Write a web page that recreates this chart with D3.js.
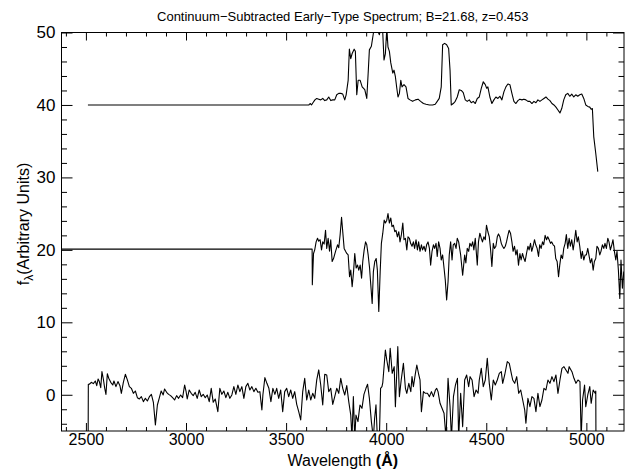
<!DOCTYPE html>
<html>
<head>
<meta charset="utf-8">
<script src="https://cdn.jsdelivr.net/npm/d3@7"></script>
<style>
  body { margin: 0; background: #fff; }
  svg { display: block; }
  text { font-family: "Liberation Sans", "DejaVu Sans", sans-serif; fill: #000; }
</style>
</head>
<body>
<div id="container"></div>
<script>
let w = 626;
let h = 469;
let plotLeft = 61.5, plotRight = 624, plotTop = 32.5, plotBottom = 431;

// axis ticks
let xMajor = [2500, 3000, 3500, 4000, 4500, 5000];
let xMinor = [2400, 2600, 2700, 2800, 2900, 3100, 3200, 3300, 3400, 3600, 3700, 3800, 3900,
              4100, 4200, 4300, 4400, 4600, 4700, 4800, 4900, 5100];
let yMajor = [0, 10, 20, 30, 40, 50];
let yMinor = [-4, -2, 2, 4, 6, 8, 12, 14, 16, 18, 22, 24, 26, 28, 32, 34, 36, 38, 42, 44, 46, 48];

// top spectrum (offset 40)
let topWave = [2510, 3614, 3620, 3627, 3634, 3644, 3653, 3663, 3673, 3683, 3693, 3703, 3713, 3723, 3733, 3743,
  3753, 3763, 3773, 3783, 3793, 3800, 3810, 3816, 3823, 3830, 3840, 3846, 3853, 3860, 3870, 3880, 3893, 3903,
  3910, 3916, 3926, 3936, 3943, 3953, 3966, 3976, 3983, 3989, 3996, 4003, 4009, 4016, 4023, 4033, 4039, 4046,
  4053, 4059, 4066, 4073, 4079, 4089, 4099, 4109, 4119, 4132, 4146, 4159, 4172, 4186, 4199, 4216, 4232, 4245,
  4255, 4265, 4275, 4282, 4292, 4302, 4312, 4319, 4325, 4335, 4345, 4355, 4365, 4375, 4385, 4395, 4405, 4415,
  4425, 4435, 4445, 4455, 4465, 4475, 4485, 4495, 4502, 4508, 4518, 4528, 4538, 4548, 4558, 4568, 4578, 4588,
  4598, 4608, 4618, 4628, 4638, 4648, 4658, 4668, 4678, 4688, 4698, 4708, 4718, 4728, 4738, 4748, 4758, 4768,
  4778, 4788, 4798, 4808, 4818, 4828, 4838, 4848, 4858, 4868, 4877, 4887, 4897, 4907, 4917, 4927, 4937, 4947,
  4957, 4967, 4977, 4987, 4997, 5007, 5017, 5024, 5030, 5037, 5047, 5057];
let topFlux = [40.0, 40.0, 40.2, 40.0, 40.3, 40.7, 40.9, 40.8, 40.7, 40.9, 40.6, 40.7, 41.1, 40.6, 40.7, 40.7,
  41.4, 41.6, 41.6, 41.5, 40.7, 41.4, 43.4, 47.7, 46.4, 47.1, 47.7, 47.4, 41.4, 43.4, 43.4, 42.5, 42.1, 40.9,
  44.4, 47.6, 48.1, 49.9, 51.0, 50.5, 49.7, 51.0, 49.9, 46.2, 47.1, 50.5, 48.0, 47.4, 45.8, 44.4, 44.8, 43.9,
  42.3, 41.1, 41.6, 43.4, 42.5, 42.8, 42.5, 40.9, 40.7, 40.5, 40.7, 40.8, 40.5, 40.2, 40.1, 40.0, 40.0, 40.1,
  40.5, 40.9, 42.5, 48.3, 48.5, 48.3, 47.8, 44.8, 40.0, 40.2, 40.5, 41.1, 42.1, 42.0, 41.7, 40.7, 40.5, 40.7,
  40.3, 40.5, 40.2, 40.9, 41.1, 42.3, 43.2, 42.8, 42.3, 42.5, 41.1, 40.2, 40.7, 41.1, 40.9, 41.2, 40.7, 41.8,
  42.5, 42.9, 42.8, 41.6, 40.5, 40.2, 40.6, 40.8, 40.7, 40.8, 40.7, 40.5, 40.5, 40.2, 40.5, 40.3, 40.7, 40.5,
  40.7, 40.9, 41.1, 40.8, 40.6, 40.2, 40.0, 39.7, 39.3, 38.9, 39.5, 40.7, 41.4, 41.6, 41.2, 41.5, 41.1, 41.4,
  41.2, 41.4, 41.5, 40.9, 40.0, 39.8, 39.7, 39.4, 39.5, 35.6, 33.3, 30.8];

// middle spectrum (offset 20)
let midWave = [2370, 3630, 3631, 3637, 3643, 3650, 3657, 3663, 3670, 3677, 3683, 3690, 3697, 3703, 3710, 3717,
  3723, 3730, 3737, 3747, 3757, 3763, 3770, 3777, 3783, 3790, 3797, 3803, 3810, 3817, 3823, 3830, 3837, 3843,
  3850, 3857, 3863, 3870, 3877, 3883, 3890, 3897, 3903, 3910, 3917, 3923, 3930, 3936, 3943, 3950, 3956, 3963,
  3970, 3976, 3983, 3990, 3996, 4003, 4009, 4016, 4023, 4029, 4036, 4043, 4049, 4056, 4063, 4069, 4076, 4083,
  4089, 4096, 4103, 4109, 4116, 4122, 4129, 4136, 4142, 4149, 4156, 4162, 4169, 4176, 4182, 4189, 4196, 4202,
  4209, 4216, 4222, 4229, 4236, 4242, 4249, 4255, 4262, 4269, 4275, 4282, 4289, 4295, 4302, 4309, 4315, 4322,
  4329, 4335, 4342, 4349, 4355, 4362, 4372, 4382, 4392, 4398, 4405, 4412, 4418, 4425, 4432, 4438, 4445, 4455,
  4461, 4468, 4475, 4481, 4488, 4495, 4501, 4508, 4515, 4521, 4528, 4535, 4541, 4548, 4555, 4561, 4568, 4575,
  4581, 4588, 4595, 4601, 4608, 4614, 4621, 4628, 4634, 4641, 4648, 4654, 4661, 4668, 4674, 4681, 4688, 4694,
  4701, 4708, 4714, 4721, 4727, 4734, 4741, 4747, 4754, 4761, 4767, 4774, 4781, 4787, 4794, 4801, 4807, 4814,
  4821, 4827, 4834, 4841, 4847, 4854, 4861, 4867, 4874, 4881, 4887, 4894, 4900, 4907, 4914, 4920, 4927, 4934,
  4940, 4947, 4954, 4960, 4967, 4974, 4980, 4987, 4994, 5000, 5007, 5014, 5020, 5027, 5034, 5040, 5047, 5053,
  5060, 5067, 5073, 5080, 5087, 5093, 5100, 5107, 5113, 5120, 5127, 5133, 5140, 5147, 5153, 5160, 5167, 5173,
  5180, 5187];
let midFlux = [20.1, 20.1, 15.2, 19.5, 20.0, 21.1, 21.6, 21.2, 21.4, 20.0, 21.1, 20.8, 22.7, 20.2, 21.6, 19.8,
  21.4, 18.4, 18.8, 19.8, 20.7, 20.3, 22.1, 24.5, 22.5, 20.2, 19.8, 19.5, 19.3, 16.3, 17.2, 14.9, 17.0, 19.5,
  17.5, 17.9, 17.2, 17.9, 16.1, 18.4, 20.0, 21.1, 20.7, 19.3, 17.5, 15.2, 12.6, 17.0, 18.4, 18.8, 17.2, 11.5,
  17.0, 20.9, 22.3, 24.1, 23.7, 24.1, 25.0, 23.7, 24.4, 23.2, 23.4, 22.5, 22.7, 21.8, 22.5, 21.1, 22.1, 23.7,
  21.4, 21.6, 20.0, 21.8, 21.6, 20.9, 20.5, 21.1, 20.2, 21.4, 20.0, 21.1, 19.8, 20.7, 20.0, 20.5, 19.8, 20.7,
  21.1, 20.2, 17.9, 19.8, 20.7, 20.2, 20.9, 19.1, 21.1, 20.2, 18.6, 19.3, 17.5, 15.9, 13.1, 15.6, 19.3, 21.1,
  18.6, 20.7, 20.9, 20.2, 21.6, 21.1, 19.3, 16.5, 19.3, 18.2, 20.2, 19.8, 20.9, 20.5, 21.1, 20.0, 21.6, 17.9,
  21.1, 22.3, 21.6, 21.1, 21.8, 21.4, 23.4, 22.5, 21.8, 20.2, 17.7, 20.9, 20.2, 20.5, 21.8, 22.2, 21.8, 20.9,
  20.5, 20.2, 20.5, 21.1, 22.0, 22.7, 22.3, 21.1, 19.8, 20.5, 19.3, 20.0, 17.9, 19.5, 18.6, 19.5, 18.8, 18.4,
  19.5, 20.5, 20.0, 20.9, 19.8, 20.5, 21.4, 20.7, 20.2, 19.1, 20.7, 20.2, 21.1, 20.7, 22.0, 21.4, 21.8, 21.4,
  20.9, 21.1, 20.7, 20.5, 18.8, 18.4, 16.3, 17.9, 19.3, 18.8, 20.2, 20.9, 22.1, 20.2, 21.6, 20.5, 21.4, 20.0,
  21.1, 22.7, 21.1, 21.8, 20.5, 18.8, 19.8, 18.6, 19.3, 19.3, 20.2, 19.1, 18.2, 18.8, 17.2, 18.4, 18.8, 20.5,
  20.2, 19.3, 19.8, 20.7, 20.2, 20.9, 20.2, 21.6, 21.1, 20.0, 20.7, 21.4, 19.8, 18.6, 19.8, 17.2, 13.3, 18.6,
  14.7, 17.0];

// bottom spectrum (offset 0)
let botWave = [2511, 2512, 2517, 2527, 2537, 2547, 2554, 2561, 2567, 2574, 2580, 2587, 2594, 2600, 2607, 2614,
  2624, 2634, 2640, 2650, 2660, 2670, 2677, 2687, 2697, 2707, 2717, 2727, 2737, 2747, 2757, 2767, 2777, 2787,
  2797, 2807, 2817, 2827, 2837, 2847, 2857, 2867, 2876, 2886, 2893, 2903, 2913, 2923, 2933, 2943, 2953, 2963,
  2973, 2983, 2993, 3000, 3006, 3016, 3026, 3036, 3046, 3056, 3066, 3076, 3086, 3096, 3106, 3116, 3126, 3136,
  3146, 3159, 3169, 3179, 3189, 3199, 3209, 3219, 3229, 3239, 3249, 3259, 3269, 3279, 3289, 3299, 3309, 3319,
  3329, 3339, 3349, 3359, 3369, 3379, 3384, 3394, 3404, 3414, 3424, 3434, 3444, 3453, 3463, 3473, 3483, 3493,
  3503, 3513, 3523, 3533, 3543, 3553, 3563, 3573, 3583, 3593, 3603, 3613, 3623, 3633, 3643, 3653, 3663, 3673,
  3683, 3693, 3703, 3713, 3723, 3733, 3743, 3753, 3763, 3773, 3783, 3793, 3803, 3813, 3823, 3829, 3836, 3843,
  3849, 3859, 3869, 3879, 3889, 3899, 3907, 3916, 3926, 3936, 3942, 3949, 3956, 3966, 3972, 3979, 3983, 3996,
  4003, 4013, 4020, 4030, 4040, 4046, 4058, 4066, 4075, 4086, 4096, 4103, 4113, 4123, 4129, 4136, 4146, 4153,
  4163, 4169, 4176, 4186, 4196, 4206, 4216, 4226, 4236, 4246, 4252, 4259, 4269, 4279, 4289, 4299, 4309, 4319,
  4326, 4336, 4346, 4356, 4362, 4372, 4382, 4392, 4402, 4412, 4419, 4429, 4439, 4449, 4459, 4465, 4475, 4485,
  4495, 4505, 4515, 4525, 4535, 4545, 4555, 4565, 4575, 4582, 4592, 4605, 4615, 4625, 4632, 4642, 4652, 4662,
  4672, 4682, 4692, 4698, 4708, 4718, 4728, 4738, 4748, 4758, 4768, 4778, 4788, 4798, 4808, 4818, 4828, 4838,
  4848, 4858, 4868, 4878, 4888, 4898, 4908, 4914, 4928, 4938, 4948, 4958, 4968, 4974, 4981, 4991, 4997, 5007,
  5017, 5024, 5034, 5044, 5047, 5048];
let botFlux = [-7, 1.45, 1.45, 1.72, 1.54, 1.9, 1.26, 2.18, 1.82, 0.99, 3.2, 2.18, 0.89, 0.06, 2.9, 2.28,
  1.72, 1.35, 1.9, 1.12, 1.82, 1.26, 0.2, 1.72, 2.83, 2.05, 1.12, 0.89, 0.2, 0.52, -0.4, -0.58, -0.26, -0.95,
  -0.49, -0.86, -0.26, 0.06, -1.04, -4.17, -1.41, -0.4, 0.52, -0.03, 0.8, 0.34, 0.06, -0.12, -0.4, -0.72, -0.12, -0.49,
  -0.03, -0.4, 1.35, 0.52, -0.58, 0.66, 0.2, -0.12, 0.34, -0.49, 0.66, -0.26, 0.06, -0.4, -0.03, -0.95, 0.89, -1.04,
  -0.58, -2.33, 0.89, 0.06, 0.52, -0.4, 0.34, -0.49, -0.03, 1.12, 0.06, 1.35, 0.43, 1.12, -0.49, 1.12, 1.58, 0.66,
  1.12, 0.43, 0.89, 0.34, 0.43, -2.1, -0.03, 2.37, 1.58, 0.89, -0.95, 0.89, 0.06, 0.89, -0.49, 0.66, -2.33, 0.43,
  0.89, -0.26, 0.66, -0.49, 0.43, -1.32, -2.33, -3.48, 0.43, 2.27, -0.72, 0.66, -0.72, 0.2, -0.49, 2.05, 3.43, 1.35,
  -1.41, 2.83, 2.73, 0.43, 0.89, -1.32, -0.26, 0.89, 0.2, 2.27, 0.89, -0.03, 1.26, -0.95, -2.8, -6, -0.26, -6,
  -2.8, -3.7, -1.41, -1.87, 0.06, 0.89, 1.45, -0.49, -3.7, -6, -3.3, -1.4, -6, -6, 0.89, 1.12, 1.67, 6.18,
  4.8, 3.19, 6.41, 2.96, 3.88, -1.64, 6.64, -0.26, 2.04, 4.33, 0.89, 0.2, 1.58, 0.43, 2.5, 1.12, 2.96, 4.11,
  2.73, 2.04, -2.33, 0.43, 0.2, 0.2, -0.26, 0.43, -0.26, 0.66, 0.89, 0.43, -1.18, -1.87, -2.56, -6, 2.27, -1.64,
  -6, -0.26, 1.35, 2.27, -6, 0.2, -4.4, 2.04, 2.73, 1.12, 2.5, 2.04, -0.26, 0.66, 0.2, 2.04, 3.65, 1.12,
  2.04, 5.03, 1.58, -0.72, 2.04, 1.35, 2.04, 2.96, 3.19, 1.58, 2.73, 4.57, 4.33, 2.96, 2.04, 1.58, 2.5, 0.2,
  0.66, -0.72, -2.1, -3.94, -0.49, -1.64, -0.26, -0.49, -2.33, 0.2, -1.64, -0.72, 0.89, 0.66, 2.04, 1.58, 2.5, 1.81,
  2.73, 0.2, 2.04, 3.65, 3.88, 3.42, 2.96, 3.88, 3.19, 2.27, 1.58, 2.04, 1.81, -6, -0.72, 1.35, -1.64, -0.03,
  1.12, -1.18, 0.66, 0.2, 0.5, -7];

let svg = d3.select("#container")
  .append("svg")
    .attr("width", w)
    .attr("height", h)
    .style("background-color", "white");

let xScale = d3.scaleLinear().domain([2378, 5188]).range([plotLeft, plotRight]);
let yScale = d3.scaleLinear().domain([-5, 50]).range([plotBottom, plotTop]);

svg.append("clipPath").attr("id", "plotclip")
  .append("rect")
    .attr("x", plotLeft).attr("y", plotTop)
    .attr("width", plotRight - plotLeft).attr("height", plotBottom - plotTop);

let line = d3.line()
  .x(d => xScale(d[0]))
  .y(d => yScale(d[1]));

let spectra = [
  d3.zip(topWave, topFlux),
  d3.zip(midWave, midFlux),
  d3.zip(botWave, botFlux)
];

svg.append("g").attr("clip-path", "url(#plotclip)")
  .selectAll("path").data(spectra).enter()
  .append("path")
    .attr("d", line)
    .attr("fill", "none")
    .attr("stroke", "#000")
    .attr("stroke-width", 1.1)
    .attr("stroke-linejoin", "round");

// IDL-style inward ticks on all four sides
function styleAxis(g) {
  g.select(".domain").remove();
  g.selectAll(".tick line").attr("stroke", "#000").attr("stroke-width", 1);
  g.selectAll("text").style("font-size", "16px").attr("fill", "#000");
}
let xMajLen = 8, xMinLen = 4, yMajLen = 11, yMinLen = 5.5;

svg.append("g").attr("transform", "translate(0," + plotBottom + ")")
  .call(d3.axisBottom(xScale).tickValues(xMajor).tickSize(-xMajLen).tickPadding(3).tickFormat(d3.format("d")))
  .call(styleAxis);
svg.append("g").attr("transform", "translate(0," + plotBottom + ")")
  .call(d3.axisBottom(xScale).tickValues(xMinor).tickSize(-xMinLen).tickFormat(""))
  .call(styleAxis);
svg.append("g").attr("transform", "translate(0," + plotTop + ")")
  .call(d3.axisTop(xScale).tickValues(xMajor).tickSize(-xMajLen).tickFormat(""))
  .call(styleAxis);
svg.append("g").attr("transform", "translate(0," + plotTop + ")")
  .call(d3.axisTop(xScale).tickValues(xMinor).tickSize(-xMinLen).tickFormat(""))
  .call(styleAxis);

svg.append("g").attr("transform", "translate(" + plotLeft + ",0)")
  .call(d3.axisLeft(yScale).tickValues(yMajor).tickSize(-yMajLen).tickPadding(6).tickFormat(d3.format("d")))
  .call(styleAxis)
  .selectAll("text").style("font-size", "17px");
svg.append("g").attr("transform", "translate(" + plotLeft + ",0)")
  .call(d3.axisLeft(yScale).tickValues(yMinor).tickSize(-yMinLen).tickFormat(""))
  .call(styleAxis);
svg.append("g").attr("transform", "translate(" + plotRight + ",0)")
  .call(d3.axisRight(yScale).tickValues(yMajor).tickSize(-yMajLen).tickFormat(""))
  .call(styleAxis);
svg.append("g").attr("transform", "translate(" + plotRight + ",0)")
  .call(d3.axisRight(yScale).tickValues(yMinor).tickSize(-yMinLen).tickFormat(""))
  .call(styleAxis);

// frame
svg.append("rect")
  .attr("x", plotLeft).attr("y", plotTop)
  .attr("width", plotRight - plotLeft).attr("height", plotBottom - plotTop)
  .attr("fill", "none").attr("stroke", "#000").attr("stroke-width", 1);

// titles
let midX = (plotLeft + plotRight) / 2;
svg.append("text")
  .attr("x", midX).attr("y", 21)
  .attr("text-anchor", "middle")
  .style("font-size", "13px")
  .text("Continuum\u2212Subtracted Early\u2212Type Spectrum; B=21.68, z=0.453");

let xt = svg.append("text")
  .attr("x", midX).attr("y", 466)
  .attr("text-anchor", "middle")
  .style("font-size", "16px");
xt.append("tspan").text("Wavelength ");
xt.append("tspan").style("font-weight", "bold").text("(\u00C5)");

let yt = svg.append("text")
  .attr("transform", "translate(29,224) rotate(-90)")
  .attr("text-anchor", "middle")
  .style("font-size", "16px");
yt.append("tspan").text("f");
yt.append("tspan").attr("dy", 4).style("font-size", "12px").text("\u03BB");
yt.append("tspan").attr("dy", -4).text("(Arbitrary Units)");
</script>
</body>
</html>
